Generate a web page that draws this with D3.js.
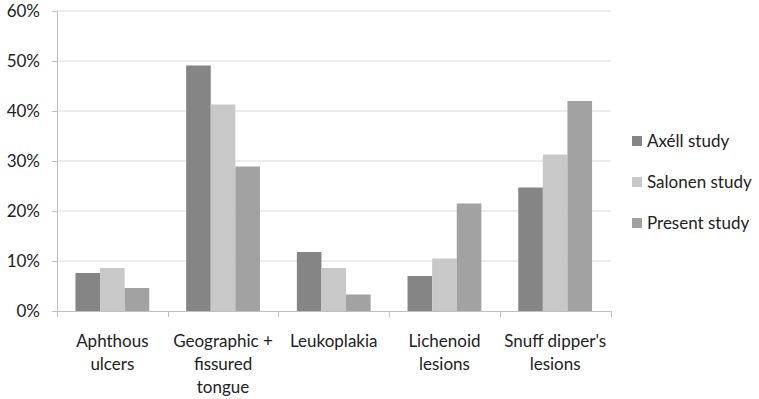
<!DOCTYPE html>
<html><head><meta charset="utf-8">
<script src="https://cdn.jsdelivr.net/npm/d3@7"></script>
<style>body{margin:0;background:#fff}svg{display:block}</style>
</head><body>
<svg id="c" width="759" height="399"></svg>
<script>
const categories = [["Aphthous","ulcers"],["Geographic +","fissured","tongue"],["Leukoplakia"],["Lichenoid","lesions"],["Snuff dipper's","lesions"]];
const seriesNames = ["Axéll study","Salonen study","Present study"];
const axell   = [7.6, 49.1, 11.8, 7.0, 24.7];
const salonen = [8.6, 41.3, 8.6, 10.5, 31.3];
const present = [4.6, 28.9, 3.3, 21.5, 42.0];
const yTicks = [0,10,20,30,40,50,60];
const colors = ["#858585","#c8c8c8","#a2a2a2"];

const series = [axell, salonen, present];
const svg = d3.select("#c");
const font = "Lato, 'Open Sans', sans-serif";
const FS = 17;
const L = 57, R = 610.5, T = 11, B = 311;
const bandW = (R - L) / categories.length;
const barW = bandW / 4.5;   // Excel gap width 150%
const y = d3.scaleLinear().domain([0, 60]).range([B, T]);
const xb = d3.scaleLinear().domain([0, categories.length]).range([L, R]);

// gridlines
svg.append("g").selectAll("line").data(yTicks.filter(d=>d>0)).join("line")
  .attr("x1", L).attr("x2", R).attr("y1", d=>y(d)).attr("y2", d=>y(d))
  .attr("stroke", "#d9d9d9").attr("stroke-width", 1);

// bars
series.forEach((vals, si) => {
  svg.append("g").selectAll("rect").data(vals).join("rect")
    .attr("x", (d,i) => xb(i) + 0.75*barW + si*barW)
    .attr("width", barW)
    .attr("y", d => y(d))
    .attr("height", d => y(0) - y(d))
    .attr("fill", colors[si]);
});

// y axis
const yAxis = d3.axisLeft(y).tickValues(yTicks).tickFormat(d => d + "%").tickSize(5).tickPadding(12);
const ga = svg.append("g").attr("transform", `translate(${L},0)`).call(yAxis);
ga.select(".domain").attr("stroke", "#bfbfbf");
ga.selectAll(".tick line").attr("stroke", "#bfbfbf");
ga.selectAll("text").attr("font-family", font).attr("font-size", FS).attr("fill", "#222");

// x axis
svg.append("line").attr("x1", L).attr("x2", R).attr("y1", B+0.5).attr("y2", B+0.5).attr("stroke", "#bfbfbf");
svg.append("g").selectAll("line").data(d3.range(categories.length+1)).join("line")
  .attr("x1", d=>Math.round(xb(d))+0.5).attr("x2", d=>Math.round(xb(d))+0.5)
  .attr("y1", B).attr("y2", B+6).attr("stroke", "#bfbfbf");

// category labels
const cl = svg.append("g").selectAll("text").data(categories).join("text")
  .attr("x", (d,i) => xb(i+0.5))
  .attr("y", 346.5)
  .attr("text-anchor", "middle")
  .attr("font-family", font).attr("font-size", FS).attr("fill", "#222");
cl.each(function(d){
  const tx = d3.select(this).attr("x");
  d3.select(this).selectAll("tspan").data(d).join("tspan")
    .attr("x", tx)
    .attr("dy", (t,j) => j===0 ? 0 : 23)
    .text(t => t);
});

// legend
const lg = svg.append("g").selectAll("g").data(seriesNames).join("g")
  .attr("transform", (d,i) => `translate(632,${141 + i*41})`);
lg.append("rect").attr("x", 0).attr("y", -5).attr("width", 10).attr("height", 10).attr("fill", (d,i)=>colors[i]);
lg.append("text").attr("x", 15).attr("y", 0).attr("dy", "0.35em")
  .attr("font-family", font).attr("font-size", FS).attr("fill", "#222").text(d=>d);
</script>
</body></html>
